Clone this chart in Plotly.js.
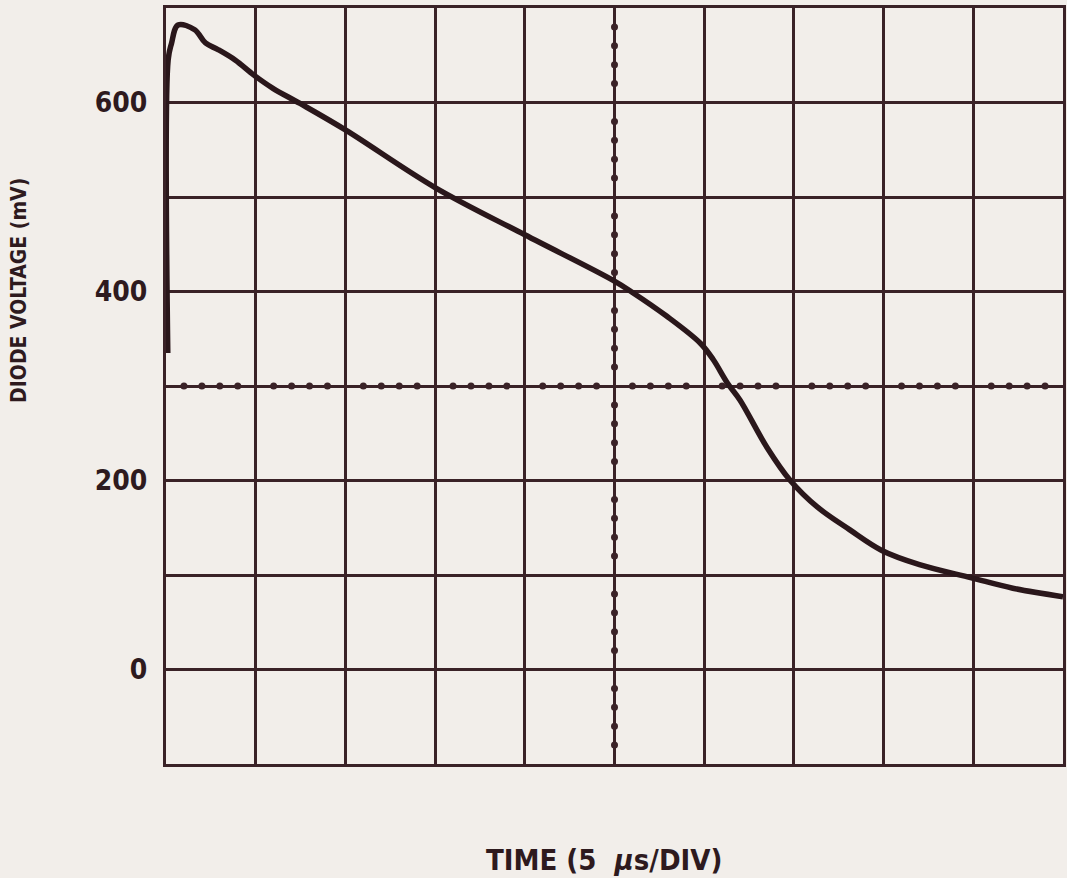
<!DOCTYPE html>
<html>
<head>
<meta charset="utf-8">
<script src="https://cdn.plot.ly/plotly-3.0.1.min.js"></script>
<style>
  html, body { margin: 0; padding: 0; background: #f2eeea; }
  #chart { width: 1067px; height: 878px; }
</style>
</head>
<body>
<div id="chart"></div>
<script>
// Diode voltage recovery trace (time in microseconds, voltage in mV)
const timeUs = [0.1, 0.12, 0.3, 0.67, 1.6, 2.2, 2.9, 3.85, 4.9, 5.96, 7.47, 10, 15, 20, 24.9,
                26, 27.9, 29.8, 30.5, 31.3, 32, 33.5, 34.8, 36.3, 38.1, 39.9, 42, 44.9, 47.2, 50];
const voltageMv = [335, 645, 662, 682, 677, 663, 656, 645, 629, 615, 599, 571, 510, 460, 412,
                   399, 374, 345, 328, 303, 285, 235, 200, 172, 148, 126, 111, 97, 86, 77];

// Graticule: 10 horizontal divisions of 5 us, 8 vertical divisions of 100 mV
const xDivs = [0, 5, 10, 15, 20, 25, 30, 35, 40, 45, 50];
const yDivs = [-100, 0, 100, 200, 300, 400, 500, 600, 700];
const yLabels = ['', '0', '', '200', '', '400', '', '600', ''];

const ink = '#3a2227';
const traceInk = '#2a171b';
const paper = '#f2eeea';
const textInk = '#2e1a1e';

// Sub-division dots along the centre cross of the graticule (5 per division)
const centreX = 25, centreY = 300;
const dotX = [], dotY = [];
for (let t = 0; t <= 50; t += 1) { if (t % 5 !== 0) { dotX.push(t); dotY.push(centreY); } }
for (let v = -100; v <= 700; v += 20) { if (v % 100 !== 0) { dotX.push(centreX); dotY.push(v); } }

const traces = [
  {
    x: dotX, y: dotY, type: 'scatter', mode: 'markers',
    marker: { size: 7, color: ink, symbol: 'circle' },
    hoverinfo: 'skip', showlegend: false
  },
  {
    x: timeUs, y: voltageMv, type: 'scatter', mode: 'lines',
    line: { color: traceInk, width: 5.5, shape: 'spline', smoothing: 1 },
    showlegend: false
  }
];

const layout = {
  width: 1067, height: 878,
  margin: { l: 166, r: 4, t: 8, b: 114 },
  paper_bgcolor: paper, plot_bgcolor: paper,
  showlegend: false,
  xaxis: {
    range: [0, 50], tickvals: xDivs, showticklabels: false,
    showgrid: true, gridcolor: ink, gridwidth: 3,
    zeroline: false, showline: true, linecolor: ink, linewidth: 3, mirror: true,
    ticks: ''
  },
  yaxis: {
    range: [-100, 700], tickvals: yDivs, ticktext: yLabels,
    showgrid: true, gridcolor: ink, gridwidth: 3,
    zeroline: false, showline: true, linecolor: ink, linewidth: 3, mirror: true,
    ticks: '', ticklabelstandoff: 10,
    tickfont: { family: 'DejaVu Sans Condensed, DejaVu Sans', size: 28, weight: 'bold', color: textInk }
  },
  annotations: [
    {
      text: 'DIODE VOLTAGE (mV)', xref: 'paper', yref: 'paper',
      x: -0.164, y: 0.627, textangle: -90, showarrow: false,
      xanchor: 'center', yanchor: 'middle',
      font: { family: 'DejaVu Sans Condensed, DejaVu Sans', size: 21, weight: 'bold', color: textInk }
    },
    {
      text: 'TIME (5 &nbsp;<i>μ</i>s/DIV)', xref: 'paper', yref: 'paper',
      x: 0.488, y: -0.127, showarrow: false,
      xanchor: 'center', yanchor: 'middle',
      font: { family: 'DejaVu Sans Condensed, DejaVu Sans', size: 29, weight: 'bold', color: textInk }
    }
  ]
};

Plotly.newPlot('chart', traces, layout, { staticPlot: true, displayModeBar: false });
</script>
</body>
</html>
